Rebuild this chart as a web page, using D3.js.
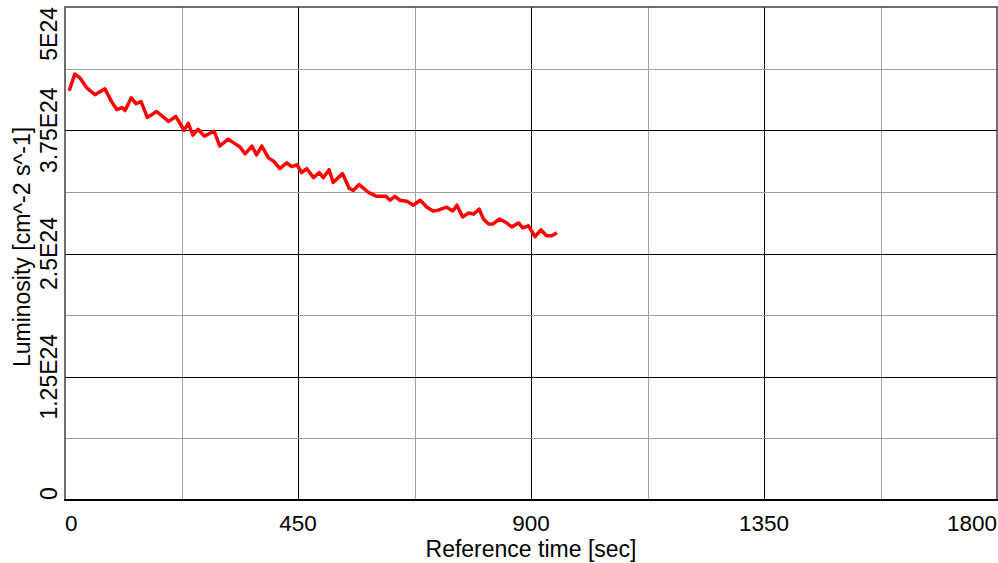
<!DOCTYPE html>
<html>
<head>
<meta charset="utf-8">
<script src="https://cdn.jsdelivr.net/npm/d3@7"></script>
<style>
  html, body { margin: 0; padding: 0; background: #fff; }
  text { font-family: "Liberation Sans", Arial, sans-serif; fill: #000; }
</style>
</head>
<body>
<div id="chart"></div>
<script>
const width = 998;
const height = 563;

// reference time [sec]
const times = [8, 19, 29, 42, 58, 77, 90, 100, 110, 116, 128, 137, 147, 159, 177, 200, 214, 230, 238, 247,
    257, 269, 288, 299, 315, 338, 348, 361, 370, 380, 393, 404, 415, 428, 438, 448, 457, 467, 480, 491,
    499, 510, 518, 536, 549, 557, 568, 586, 602, 620, 628, 637, 647, 660, 673, 686, 699, 711, 721, 737,
    749, 757, 768, 779, 789, 800, 808, 818, 827, 839, 850, 863, 876, 884, 895, 908, 919, 930, 940, 950];

// luminosity in units of 1E24 cm^-2 s^-1
const lumi = [4.15, 4.32, 4.28, 4.18, 4.11, 4.17, 4.04, 3.96, 3.98, 3.95, 4.08, 4.02, 4.04, 3.88, 3.94, 3.84, 3.89, 3.75, 3.82, 3.70,
    3.76, 3.69, 3.74, 3.59, 3.66, 3.58, 3.51, 3.59, 3.50, 3.59, 3.47, 3.43, 3.36, 3.42, 3.38, 3.40, 3.32, 3.36, 3.27, 3.32,
    3.27, 3.35, 3.22, 3.31, 3.16, 3.14, 3.20, 3.12, 3.08, 3.08, 3.04, 3.08, 3.04, 3.03, 2.99, 3.04, 2.97, 2.93, 2.94, 2.97,
    2.93, 2.99, 2.87, 2.91, 2.90, 2.95, 2.85, 2.80, 2.80, 2.85, 2.82, 2.77, 2.81, 2.76, 2.78, 2.67, 2.74, 2.68, 2.68, 2.71];

const xTicks = [0, 225, 450, 675, 900, 1125, 1350, 1575, 1800];
const xLabels = ["0", "", "450", "", "900", "", "1350", "", "1800"];
const yTicks = [0, 0.625, 1.25, 1.875, 2.5, 3.125, 3.75, 4.375, 5];
const yLabels = ["0", "", "1.25E24", "", "2.5E24", "", "3.75E24", "", "5E24"];

const margin = {left: 65, top: 7, right: 1, bottom: 63};
const plotW = width - margin.left - margin.right;
const plotH = height - margin.top - margin.bottom;

const svg = d3.select("#chart")
    .append("svg")
    .attr("width", width)
    .attr("height", height);

const x = d3.scaleLinear().domain([0, 1800]).range([margin.left, margin.left + plotW]);
const y = d3.scaleLinear().domain([0, 5]).range([margin.top + plotH, margin.top]);

// grid: black on labelled ticks, gray between
const grid = svg.append("g");
grid.selectAll(".vx")
    .data(xTicks.slice(1, -1))
    .join("line")
    .attr("x1", d => Math.round(x(d)) + 0.5)
    .attr("x2", d => Math.round(x(d)) + 0.5)
    .attr("y1", y(5))
    .attr("y2", y(0))
    .attr("stroke", (d, i) => xLabels[i + 1] ? "#000" : "#a0a0a0")
    .attr("stroke-width", 1);

grid.selectAll(".hy")
    .data(yTicks.slice(1, -1))
    .join("line")
    .attr("x1", x(0))
    .attr("x2", x(1800))
    .attr("y1", d => Math.round(y(d)) + 0.5)
    .attr("y2", d => Math.round(y(d)) + 0.5)
    .attr("stroke", (d, i) => yLabels[i + 1] ? "#000" : "#a0a0a0")
    .attr("stroke-width", 1);

// frame
svg.append("rect")
    .attr("x", x(0))
    .attr("y", y(5))
    .attr("width", plotW)
    .attr("height", plotH)
    .attr("fill", "none")
    .attr("stroke", "#404040")
    .attr("stroke-width", 1.5);

svg.append("line")
    .attr("x1", x(0) - 1)
    .attr("x2", x(1800) + 1)
    .attr("y1", y(0))
    .attr("y2", y(0))
    .attr("stroke", "#000")
    .attr("stroke-width", 2);

// data line
const line = d3.line()
    .x((d, i) => x(times[i]))
    .y(d => y(d));

svg.append("path")
    .datum(lumi)
    .attr("d", line)
    .attr("fill", "none")
    .attr("stroke", "#ff0000")
    .attr("stroke-width", 3.5)
    .attr("stroke-linejoin", "round");

// x tick labels
svg.append("g")
    .selectAll("text")
    .data(xTicks)
    .join("text")
    .attr("x", d => x(d))
    .attr("y", 531)
    .attr("font-size", "22.5px")
    .attr("text-anchor", (d, i) => i === 0 ? "start" : (i === xTicks.length - 1 ? "end" : "middle"))
    .text((d, i) => xLabels[i]);

// y tick labels (rotated)
svg.append("g")
    .selectAll("text")
    .data(yTicks)
    .join("text")
    .attr("transform", d => `translate(57,${y(d)}) rotate(-90)`)
    .attr("font-size", "23px")
    .attr("text-anchor", (d, i) => i === 0 ? "start" : (i === yTicks.length - 1 ? "end" : "middle"))
    .text((d, i) => yLabels[i]);

// axis titles
svg.append("text")
    .attr("x", (x(0) + x(1800)) / 2)
    .attr("y", 557)
    .attr("font-size", "23px")
    .attr("text-anchor", "middle")
    .text("Reference time [sec]");

svg.append("text")
    .attr("transform", "translate(30,247) rotate(-90)")
    .attr("font-size", "23px")
    .attr("text-anchor", "middle")
    .text("Luminosity [cm^-2 s^-1]");
</script>
</body>
</html>
